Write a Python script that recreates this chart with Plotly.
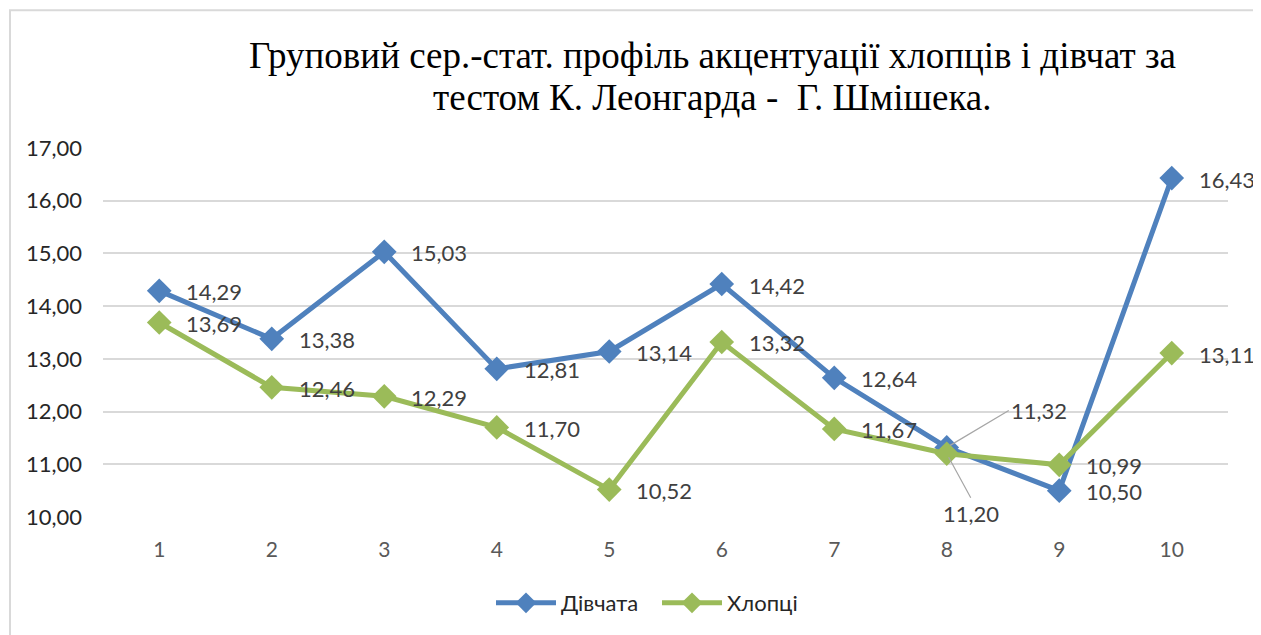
import plotly.graph_objects as go

categories = [1, 2, 3, 4, 5, 6, 7, 8, 9, 10]
divchata = [14.29, 13.38, 15.03, 12.81, 13.14, 14.42, 12.64, 11.32, 10.50, 16.43]
khloptsi = [13.69, 12.46, 12.29, 11.70, 10.52, 13.32, 11.67, 11.20, 10.99, 13.11]
y_ticks = [10, 11, 12, 13, 14, 15, 16, 17]
title_lines = ["Груповий сер.-стат. профіль акцентуації хлопців і дівчат за",
               "тестом К. Леонгарда -  Г. Шмішека."]

BLUE = "#4F81BD"
GREEN = "#9BBB59"
LABEL_FONT = "Lato, 'Noto Sans', sans-serif"
TITLE_FONT = "'Liberation Serif', 'Times New Roman', serif"

# figure geometry (page body adds 8px offset)
FW, FH = 1253, 627
L, T, W, H = 95, 140, 1125, 370


def px(xp):
    return (xp - L) / W


def py(yp):
    return (T + H - yp) / H


def fmt(v):
    return f"{v:.2f}".replace(".", ",")


fig = go.Figure()
fig.add_trace(go.Scatter(
    x=categories, y=divchata, name="Дівчата", mode="lines+markers",
    line=dict(color=BLUE, width=5),
    marker=dict(symbol="diamond", size=19, color=BLUE),
))
fig.add_trace(go.Scatter(
    x=categories, y=khloptsi, name="Хлопці", mode="lines+markers",
    line=dict(color=GREEN, width=5),
    marker=dict(symbol="diamond", size=19, color=GREEN),
))

annotations = []
special = {("d", 7): (62, -37), ("k", 7): (24, 44)}
for key, series in (("d", divchata), ("k", khloptsi)):
    for i, (c, v) in enumerate(zip(categories, series)):
        if (key, i) in special:
            ax, ay = special[(key, i)]
            annotations.append(dict(
                x=c, y=v, xref="x", yref="y", text=fmt(v),
                showarrow=True, arrowhead=0, arrowwidth=1.2, arrowcolor="#A6A6A6",
                ax=ax, ay=ay, standoff=4,
                font=dict(family=LABEL_FONT, size=22, color="#404040"),
                xanchor="left" if ay < 0 else "center",
                yanchor="middle" if ay < 0 else "top",
            ))
        else:
            annotations.append(dict(
                x=c, y=v, xref="x", yref="y", text=fmt(v), showarrow=False,
                xanchor="left", yanchor="middle", xshift=25, yshift=-1,
                font=dict(family=LABEL_FONT, size=22, color="#404040"),
            ))

for line, ypos in zip(title_lines, (47, 89)):
    annotations.append(dict(
        x=px(704), y=py(ypos), xref="paper", yref="paper", text=line,
        showarrow=False, xanchor="center", yanchor="middle",
        font=dict(family=TITLE_FONT, size=37, color="black"),
    ))

fig.update_layout(
    width=FW, height=FH,
    paper_bgcolor="white", plot_bgcolor="white",
    margin=dict(l=L, r=FW - L - W, t=T, b=FH - T - H),
    xaxis=dict(
        range=[0.5, 10.5], tickmode="array", tickvals=categories,
        ticktext=[str(c) for c in categories], showgrid=False, zeroline=False,
        showline=False, ticks="", ticklabelstandoff=18,
        tickfont=dict(family=LABEL_FONT, size=21, color="#595959"),
    ),
    yaxis=dict(
        range=[10, 17], tickmode="array", tickvals=y_ticks,
        ticktext=[fmt(t) for t in y_ticks], showgrid=True, gridcolor="#D9D9D9",
        gridwidth=1.5, zeroline=False, showline=False, ticks="", ticklabelstandoff=20,
        tickfont=dict(family=LABEL_FONT, size=22, color="#262626"),
    ),
    legend=dict(
        orientation="h", x=px(649), xanchor="center", y=py(595), yanchor="middle",
        font=dict(family=LABEL_FONT, size=22, color="#262626"),
        itemwidth=60, entrywidth=91, entrywidthmode="pixels",
    ),
    annotations=annotations,
    shapes=[dict(
        type="rect", xref="paper", yref="paper",
        x0=px(2), x1=px(1249), y0=py(FH + 20), y1=py(2),
        line=dict(color="#D9D9D9", width=2), layer="below",
    )],
)

fig.write_html("out.html")
